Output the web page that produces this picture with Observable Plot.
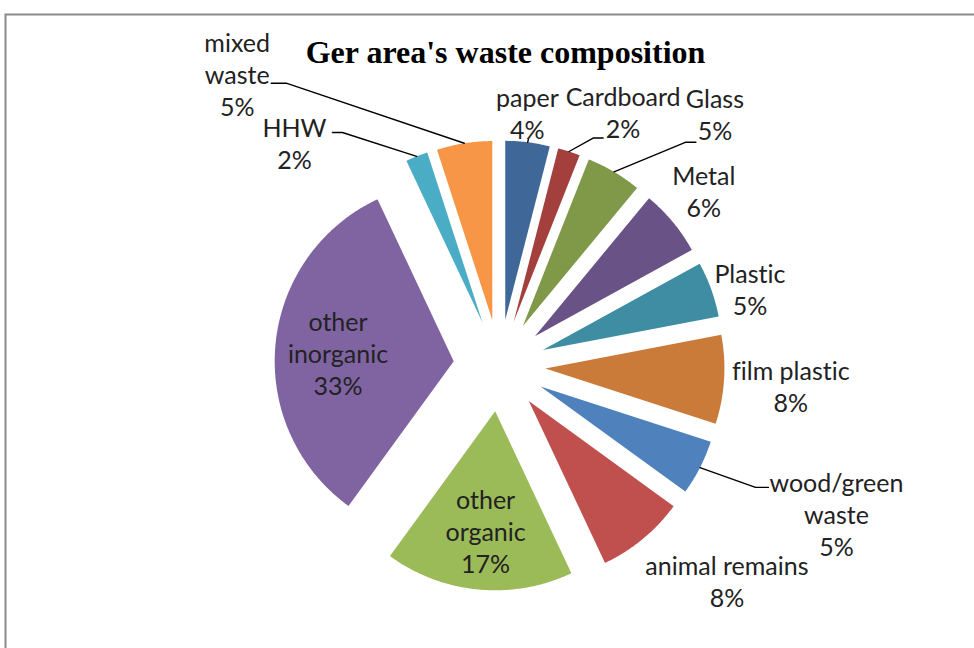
<!DOCTYPE html>
<html>
<head>
<meta charset="utf-8">
<script src="https://cdn.jsdelivr.net/npm/d3@7"></script>
<script src="https://cdn.jsdelivr.net/npm/@observablehq/plot@0.6"></script>
<style>
  html, body { margin: 0; padding: 0; background: #fff; overflow: hidden; }
  #chart { width: 974px; height: 648px; }
  #chart svg text { font-variant-ligatures: none; font-feature-settings: "liga" 0, "clig" 0, "dlig" 0; }
</style>
</head>
<body>
<div id="chart"></div>
<script>
// ---- data ----
const categories = ["paper", "Cardboard", "Glass", "Metal", "Plastic", "film plastic",
  "wood/green waste", "animal remains", "other organic", "other inorganic", "HHW", "mixed waste"];
const labelNames = ["paper", "Cardboard", "Glass", "Metal", "Plastic", "film plastic",
  "wood/green\nwaste", "animal remains", "other\norganic", "other\ninorganic", "HHW", "mixed\nwaste"];
const percents = [4, 2, 5, 6, 5, 8, 5, 8, 17, 33, 2, 5];
const titleText = "Ger area's waste composition";

// ---- style / layout ----
const colors = ["#3F6797", "#A3403D", "#7F9949", "#695285", "#3E8DA3", "#CB7B39",
  "#4F81BD", "#C0504D", "#9BBB59", "#8064A2", "#4BACC6", "#F79646"];
const W = 974, H = 648;
const cx = 499, cy = 365, R = 179, E = 46;
// label placement: angular shift (deg) from slice mid angle, distance from pie centre, leader offsets
const labelLayout = [
  {shift: -0.9, dist: 254, lead: [1, 1, 26]},
  {shift: 8, dist: 282, lead: [-30, -20, 26]},
  {shift: 10, dist: 331, lead: [-29, -19, 28]},
  {shift: -1, dist: 269, lead: null},
  {shift: 2.7, dist: 262, lead: null},
  {shift: 0.3, dist: 292, lead: null},
  {shift: -3.3, dist: 368, lead: [-81, -68, -26]},
  {shift: -7, dist: 313, lead: null},
  {shift: -0.6, dist: 166, lead: null},
  {shift: -0.8, dist: 162, lead: null},
  {shift: -21, dist: 303, lead: [48, 38, -10]},
  {shift: -33, dist: 392, lead: [49, 34, 9]}
];

const arcs = d3.pie().sort(null).value(d => d)(percents);
const rad = Math.PI / 180;

const slicePts = [];
const labels = [];
const leaders = [];
arcs.forEach((a, i) => {
  const mid = (a.startAngle + a.endAngle) / 2;
  const ox = cx + E * Math.sin(mid), oy = cy - E * Math.cos(mid);
  slicePts.push({k: i, x: ox, y: oy, c: colors[i]});
  const n = Math.max(3, Math.ceil((a.endAngle - a.startAngle) / (0.5 * rad)));
  for (let j = 0; j <= n; j++) {
    const t = a.startAngle + (a.endAngle - a.startAngle) * j / n;
    slicePts.push({k: i, x: ox + R * Math.sin(t), y: oy - R * Math.cos(t), c: colors[i]});
  }
  slicePts.push({k: i, x: ox, y: oy, c: colors[i]});

  const L = labelLayout[i];
  const la = mid + L.shift * rad;
  const lx = cx + L.dist * Math.sin(la), ly = cy - L.dist * Math.cos(la);
  labels.push({x: lx, y: ly, text: labelNames[i] + "\n" + percents[i] + "%"});

  if (L.lead) {
    const px = ox + R * Math.sin(mid), py = oy - R * Math.cos(mid);
    leaders.push({k: i, x: px, y: py});
    leaders.push({k: i, x: lx + L.lead[0], y: ly + L.lead[2]});
    leaders.push({k: i, x: lx + L.lead[1], y: ly + L.lead[2]});
  }
});

const chart = Plot.plot({
  width: W,
  height: H,
  margin: 0,
  x: {domain: [0, W], range: [0, W], axis: null},
  y: {domain: [0, H], range: [0, H], axis: null},
  color: {type: "identity"},
  style: {background: "#fff", overflow: "hidden"},
  marks: [
    Plot.frame({stroke: "#8a8a8a", strokeWidth: 2, insetLeft: 5, insetTop: 14, insetRight: -10, insetBottom: -10}),
    Plot.line(slicePts, {x: "x", y: "y", z: "k", fill: "c", stroke: "none", curve: "linear"}),
    Plot.line(leaders, {x: "x", y: "y", z: "k", stroke: "#000", strokeWidth: 1.4, curve: "linear"}),
    Plot.text(labels, {x: "x", y: "y", text: "text", fontSize: 25, fontFamily: "Lato", lineHeight: 1.28,
      fill: "#222", textAnchor: "middle", lineAnchor: "middle"}),
    Plot.text([titleText], {x: [W / 2 + 18], y: [52], text: d => d, fontSize: 32, fontWeight: "bold",
      fontFamily: "Liberation Serif", fill: "#000", textAnchor: "middle", lineAnchor: "middle"})
  ]
});
document.getElementById("chart").appendChild(chart);
</script>
</body>
</html>
